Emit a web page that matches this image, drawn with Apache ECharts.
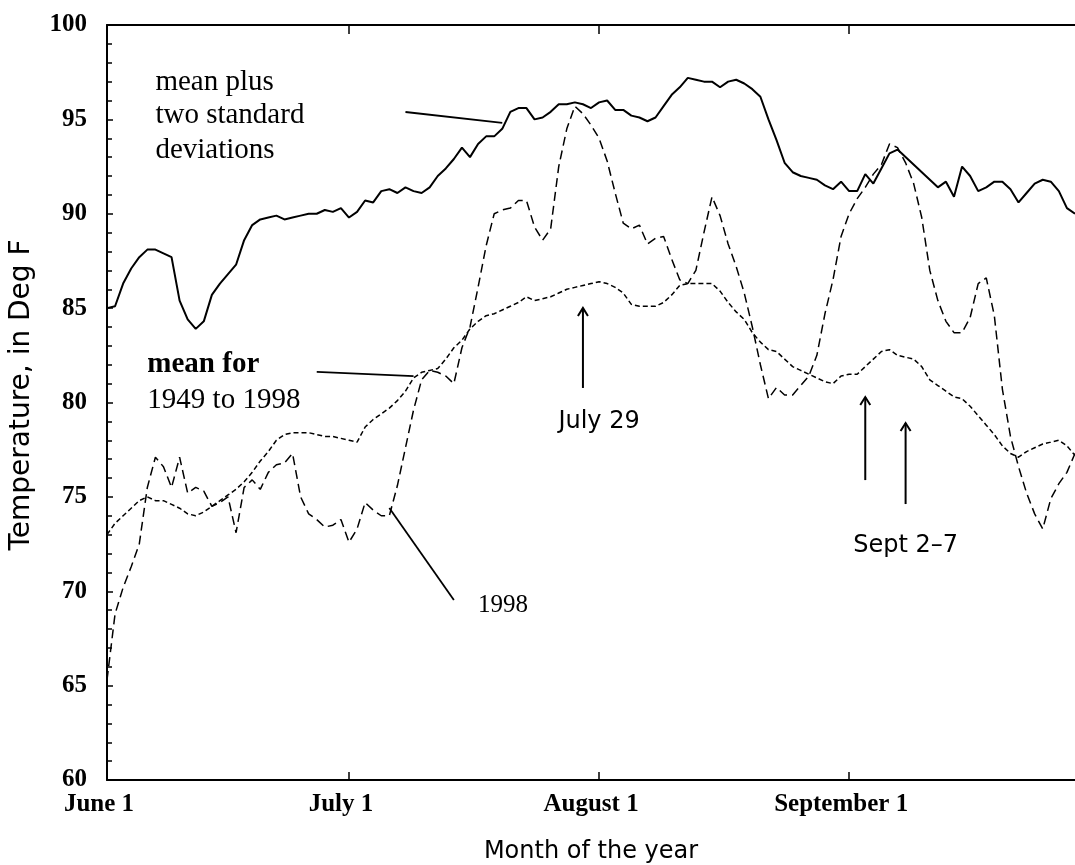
<!DOCTYPE html>
<html>
<head>
<meta charset="utf-8">
<title>Daily high temperature, June to September</title>
<script src="https://cdn.jsdelivr.net/npm/echarts@6/dist/echarts.min.js"></script>
<style>
  html, body { margin: 0; padding: 0; background: #ffffff; }
  #chart { width: 1075px; height: 865px; }
</style>
</head>
<body>
<div id="chart"></div>
<script>
// ---- calendar: one category per day, June 1 .. September 29 ----
const monthNames = ['June', 'July', 'August', 'September'];
const monthDays = [30, 31, 31, 29];
const tickDays = [0, 30, 61, 92];
const tickLabels = ['June 1', 'July 1', 'August 1', 'September 1'];

// ---- daily temperatures, deg F ----
// mean plus two standard deviations (no values for Sept 8-11)
const meanPlus2sd = [
  85.0, 85.1, 86.3, 87.1, 87.7, 88.1, 88.1, 87.9, 87.7, 85.4,
  84.4, 83.9, 84.3, 85.7, 86.3, 86.8, 87.3, 88.6, 89.4, 89.7,
  89.8, 89.9, 89.7, 89.8, 89.9, 90.0, 90.0, 90.2, 90.1, 90.3,
  89.8, 90.1, 90.7, 90.6, 91.2, 91.3, 91.1, 91.4, 91.2, 91.1,
  91.4, 92.0, 92.4, 92.9, 93.5, 93.0, 93.7, 94.1, 94.1, 94.5,
  95.4, 95.6, 95.6, 95.0, 95.1, 95.4, 95.8, 95.8, 95.9, 95.8,
  95.6, 95.9, 96.0, 95.5, 95.5, 95.2, 95.1, 94.9, 95.1, 95.7,
  96.3, 96.7, 97.2, 97.1, 97.0, 97.0, 96.7, 97.0, 97.1, 96.9,
  96.6, 96.2, 95.0, 93.9, 92.7, 92.2, 92.0, 91.9, 91.8, 91.5,
  91.3, 91.7, 91.2, 91.2, 92.1, 91.6, 92.4, 93.2, 93.4, null,
  null, null, null, 91.4, 91.7, 90.9, 92.5, 92.0, 91.2, 91.4,
  91.7, 91.7, 91.3, 90.6, 91.1, 91.6, 91.8, 91.7, 91.2, 90.3,
  90.0
];

// mean for 1949 to 1998
const mean1949to1998 = [
  73.0, 73.6, 74.0, 74.4, 74.8, 75.0, 74.8, 74.8, 74.6, 74.4,
  74.1, 74.0, 74.2, 74.5, 74.8, 75.1, 75.4, 75.8, 76.3, 76.9,
  77.4, 78.0, 78.3, 78.4, 78.4, 78.4, 78.3, 78.2, 78.2, 78.1,
  78.0, 77.9, 78.7, 79.1, 79.4, 79.7, 80.1, 80.6, 81.3, 81.6,
  81.7, 81.8, 82.3, 82.9, 83.3, 83.9, 84.3, 84.6, 84.7, 84.9,
  85.1, 85.3, 85.6, 85.4, 85.5, 85.6, 85.8, 86.0, 86.1, 86.2,
  86.3, 86.4, 86.3, 86.1, 85.8, 85.2, 85.1, 85.1, 85.1, 85.3,
  85.7, 86.2, 86.3, 86.3, 86.3, 86.3, 85.9, 85.3, 84.8, 84.4,
  83.7, 83.2, 82.8, 82.7, 82.3, 81.9, 81.7, 81.5, 81.3, 81.1,
  81.0, 81.4, 81.5, 81.5, 81.9, 82.3, 82.7, 82.8, 82.5, 82.4,
  82.3, 81.9, 81.2, 80.9, 80.6, 80.3, 80.2, 79.8, 79.3, 78.8,
  78.3, 77.7, 77.3, 77.1, 77.4, 77.6, 77.8, 77.9, 78.0, 77.7,
  77.2
];

// 1998
const temps1998 = [
  65.3, 68.8, 70.2, 71.3, 72.5, 75.5, 77.1, 76.6, 75.5, 77.1,
  75.2, 75.5, 75.3, 74.5, 74.7, 75.0, 73.1, 75.5, 75.9, 75.4,
  76.3, 76.7, 76.8, 77.3, 75.0, 74.1, 73.8, 73.4, 73.5, 73.8,
  72.6, 73.3, 74.7, 74.3, 74.0, 74.0, 75.6, 77.6, 79.6, 81.2,
  81.7, 81.6, 81.4, 81.0, 82.9, 84.0, 86.1, 88.3, 90.0, 90.2,
  90.3, 90.7, 90.7, 89.3, 88.6, 89.2, 92.5, 94.5, 95.7, 95.3,
  94.7, 94.0, 92.8, 91.1, 89.5, 89.2, 89.4, 88.4, 88.7, 88.8,
  87.6, 86.5, 86.3, 87.0, 89.0, 90.9, 89.9, 88.4, 87.2, 85.8,
  84.0, 82.0, 80.2, 80.8, 80.4, 80.4, 80.9, 81.4, 82.5, 84.7,
  86.5, 88.8, 90.0, 90.8, 91.4, 92.1, 92.6, 93.7, 93.5, 92.7,
  91.6, 89.8, 87.0, 85.4, 84.3, 83.7, 83.7, 84.5, 86.3, 86.6,
  84.6, 80.7, 78.2, 76.6, 75.2, 74.1, 73.3, 74.9, 75.7, 76.3,
  77.3
];

// y-axis scale
const yMin = 60, yMax = 100, yStep = 5;

// annotation texts, anchored in [day index, deg F]
const serifNotes = [
  { text: 'mean plus', at: [5.95, 96.98], bold: false, size: 29 },
  { text: 'two standard', at: [5.95, 95.23], bold: false, size: 29 },
  { text: 'deviations', at: [5.95, 93.38], bold: false, size: 29 },
  { text: 'mean for', at: [5.33, 81.99], bold: true, size: 29 },
  { text: '1949 to 1998', at: [5.33, 80.13], bold: false, size: 29 },
  { text: '1998', at: [45.6, 69.27], bold: false, size: 25 }
];
const sansNotes = [
  { text: 'July 29', at: [61.1, 78.97] },
  { text: 'Sept 2\u20137', at: [99.1, 72.40] }
];
// leader lines from labels to curves
const leaders = [
  [[37.2, 95.39], [49.4, 94.81]],
  [[25.5, 81.62], [37.9, 81.40]],
  [[35.1, 74.41], [43.4, 69.54]]
];
// arrows pointing up to dates: [day, from temp, to temp]
const arrows = [
  [59.1, 80.77, 85.01],
  [93.6, 75.89, 80.29],
  [98.8, 74.62, 78.91]
];
const yTitle = 'Temperature, in Deg F';

// build day category names
const dayNames = [];
monthNames.forEach((m, i) => {
  for (let d = 1; d <= monthDays[i]; d++) dayNames.push(m + ' ' + d);
});
const isTickDay = (idx) => tickDays.indexOf(idx) >= 0;

const serifFont = '"Liberation Serif", "DejaVu Serif", serif';
const sansFont = '"DejaVu Sans", "Liberation Sans", sans-serif';

const chart = echarts.init(document.getElementById('chart'), null, { renderer: 'canvas' });

const axisLineStyle = { color: '#000', width: 2 };

chart.setOption({
  animation: false,
  backgroundColor: '#ffffff',
  grid: {
    left: 107, right: 0, top: 25, bottom: 85,
    containLabel: false,
    outerBoundsMode: 'none'
  },
  xAxis: [
    {
      type: 'category',
      position: 'bottom',
      data: dayNames,
      boundaryGap: false,
      name: 'Month of the year',
      nameLocation: 'middle',
      nameGap: 60,
      nameTextStyle: { fontFamily: sansFont, fontSize: 24, color: '#000' },
      axisLine: { show: true, lineStyle: axisLineStyle },
      axisTick: {
        show: true, inside: true, length: 8,
        interval: (idx) => isTickDay(idx),
        lineStyle: { color: '#000', width: 1.5 }
      },
      axisLabel: {
        show: true,
        interval: (idx) => isTickDay(idx),
        formatter: (val, idx) => tickLabels[tickDays.indexOf(idx)] || '',
        margin: 12,
        padding: [0, 16, 0, 0],
        fontFamily: serifFont, fontWeight: 'bold', fontSize: 25, color: '#000'
      },
      splitLine: { show: false }
    },
    {
      type: 'category',
      position: 'top',
      data: dayNames,
      boundaryGap: false,
      axisLine: { show: true, lineStyle: axisLineStyle },
      axisTick: {
        show: true, inside: true, length: 9,
        interval: (idx) => isTickDay(idx),
        lineStyle: { color: '#000', width: 1.5 }
      },
      axisLabel: { show: false },
      splitLine: { show: false }
    }
  ],
  yAxis: {
    type: 'value',
    min: yMin, max: yMax, interval: yStep,
    axisLine: { show: true, lineStyle: axisLineStyle },
    axisTick: { show: true, inside: true, length: 6, lineStyle: { color: '#000', width: 1.5 } },
    minorTick: { show: true, splitNumber: 5, length: 5, lineStyle: { color: '#000', width: 1.5 } },
    axisLabel: {
      margin: 20,
      fontFamily: serifFont, fontWeight: 'bold', fontSize: 25, color: '#000'
    },
    splitLine: { show: false },
    minorSplitLine: { show: false }
  },
  series: [
    {
      name: 'mean plus two standard deviations',
      type: 'line',
      data: meanPlus2sd,
      showSymbol: false,
      connectNulls: true,
      lineStyle: { color: '#000', width: 2, type: 'solid' }
    },
    {
      name: 'mean for 1949 to 1998',
      type: 'line',
      data: mean1949to1998,
      showSymbol: false,
      lineStyle: { color: '#000', width: 1.5, type: [5, 3] }
    },
    {
      name: '1998',
      type: 'line',
      data: temps1998,
      showSymbol: false,
      lineStyle: { color: '#000', width: 1.5, type: [9, 5] }
    }
  ]
});

// annotations placed through the chart's own coordinate system
const px = (pt) => chart.convertToPixel({ xAxisIndex: 0, yAxisIndex: 0 }, pt);
const graphics = [];

// vertical axis title, centred a little above the middle of the axis
const yTitleAt = px([0, 80.4]);
graphics.push({
  type: 'text', x: 22, y: yTitleAt[1], rotation: Math.PI / 2, silent: true,
  style: {
    text: yTitle, fill: '#000', font: '28px ' + sansFont,
    textAlign: 'center', textVerticalAlign: 'middle'
  }
});

serifNotes.forEach((n) => {
  const p = px(n.at);
  graphics.push({
    type: 'text', x: p[0], y: p[1], silent: true,
    style: {
      text: n.text, fill: '#000',
      font: (n.bold ? 'bold ' : '') + n.size + 'px ' + serifFont,
      textAlign: 'left', textVerticalAlign: 'middle'
    }
  });
});
sansNotes.forEach((n) => {
  const p = px(n.at);
  graphics.push({
    type: 'text', x: p[0], y: p[1], silent: true,
    style: {
      text: n.text, fill: '#000',
      font: '24px ' + sansFont,
      textAlign: 'center', textVerticalAlign: 'middle'
    }
  });
});
leaders.forEach((seg) => {
  const a = px(seg[0]), b = px(seg[1]);
  graphics.push({
    type: 'line', silent: true,
    shape: { x1: a[0], y1: a[1], x2: b[0], y2: b[1] },
    style: { stroke: '#000', lineWidth: 1.8 }
  });
});
arrows.forEach((ar) => {
  const base = px([ar[0], ar[1]]), tip = px([ar[0], ar[2]]);
  graphics.push({
    type: 'line', silent: true,
    shape: { x1: base[0], y1: base[1], x2: tip[0], y2: tip[1] },
    style: { stroke: '#000', lineWidth: 2 }
  });
  graphics.push({
    type: 'polyline', silent: true,
    shape: { points: [[tip[0] - 5, tip[1] + 8], [tip[0], tip[1]], [tip[0] + 5, tip[1] + 8]] },
    style: { stroke: '#000', lineWidth: 2, fill: null }
  });
});

chart.setOption({ graphic: graphics });
</script>
</body>
</html>
